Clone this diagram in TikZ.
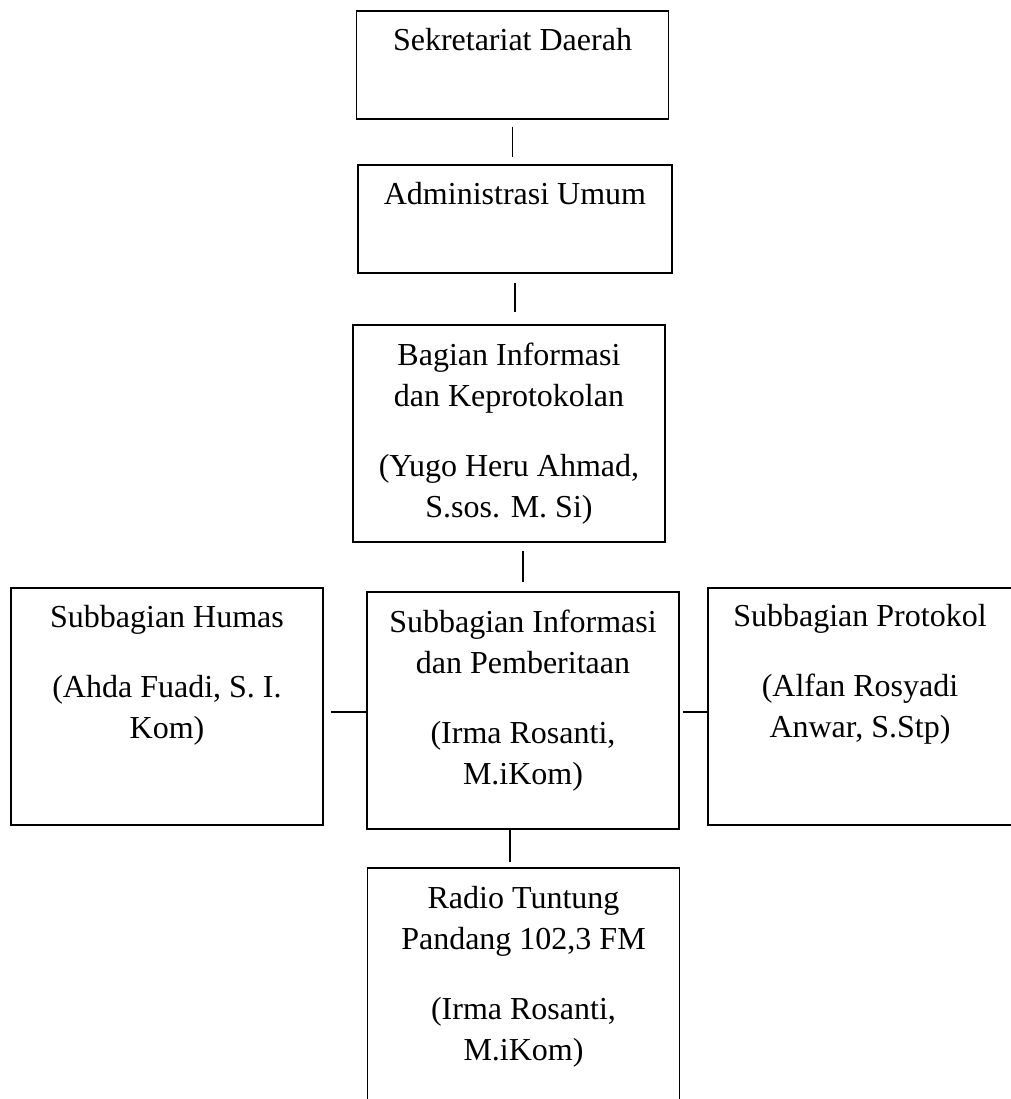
\documentclass[tikz,border=0pt]{standalone}
\usepackage{fontspec}
\setmainfont{Liberation Serif}
\begin{document}
\begin{tikzpicture}[x=0.5pt, y=-0.5pt,
    orgbox/.style={draw=black, line width=0.95pt, inner sep=0pt, minimum width=156pt},
    orgtext/.style={anchor=base, align=center, font=\fontsize{16}{20.5}\selectfont}]
  \clip (0,0) rectangle (1011,1099);
  \begin{scope}[every node/.style={orgbox}]
    \node[minimum height=54pt] (sekda) at (512.5,65) {};
    \node[minimum width=157pt, minimum height=54pt] (admin) at (515,219) {};
    \node[minimum height=108.5pt] (bagian) at (509,433.5) {};
    \node[minimum height=118.5pt] (humas) at (167,706.5) {};
    \node[minimum height=118.5pt] (info) at (523,710.5) {};
    \node[minimum width=152pt, minimum height=118.5pt] (protokol) at (860,706.5) {};
    \node[minimum height=131pt] (radio) at (523.5,999) {};
  \end{scope}
  % base of a multi-line node = its last line
  \begin{scope}[every node/.style={orgtext}]
    \node (sekdatext) at ([yshift=-20pt]sekda.north) {Sekretariat Daerah};
    \node (admintext) at ([yshift=-20pt]admin.north) {Administrasi Umum};
    \node (bagiantext) at ([yshift=-96.5pt]bagian.north) {Bagian Informasi\\dan Keprotokolan\\[14.5pt](Yugo Heru Ahmad,\\S.sos. M. Si)};
    \node (humastext) at ([yshift=-75.5pt]humas.north) {Subbagian Humas\\[14.5pt](Ahda Fuadi, S. I.\\Kom)};
    \node (infotext) at ([yshift=-96.5pt]info.north) {Subbagian Informasi\\dan Pemberitaan\\[14.5pt](Irma Rosanti,\\M.iKom)};
    \node (protokoltext) at ([yshift=-75pt]protokol.north) {Subbagian Protokol\\[14.5pt](Alfan Rosyadi\\Anwar, S.Stp)};
    \node (radiotext) at ([yshift=-96.5pt]radio.north) {Radio Tuntung\\Pandang 102,3 FM\\[14.5pt](Irma Rosanti,\\M.iKom)};
  \end{scope}
  \begin{scope}[every edge/.style={draw=black, line width=0.8pt}]
    \path (sekda.south) edge[shorten <=3.5pt, shorten >=3.5pt] (sekda.south |- admin.north);
    \path (admin.south) edge[shorten <=4.5pt, shorten >=6pt] (admin.south |- bagian.north);
    \path (bagian.south -| info.north) edge[shorten <=4pt, shorten >=4.5pt] (info.north);
    \path ([xshift=-6.5pt]info.south) edge[shorten >=2.5pt] ([xshift=-6.5pt]info.south |- radio.north);
    \path ([yshift=-0.8pt]humas.east |- info.west) edge[shorten <=3.5pt] ([yshift=-0.8pt]info.west);
    \path ([yshift=-0.8pt]info.east) edge[shorten <=1.5pt] ([yshift=-0.8pt]protokol.west |- info.east);
  \end{scope}
\end{tikzpicture}
\end{document}
